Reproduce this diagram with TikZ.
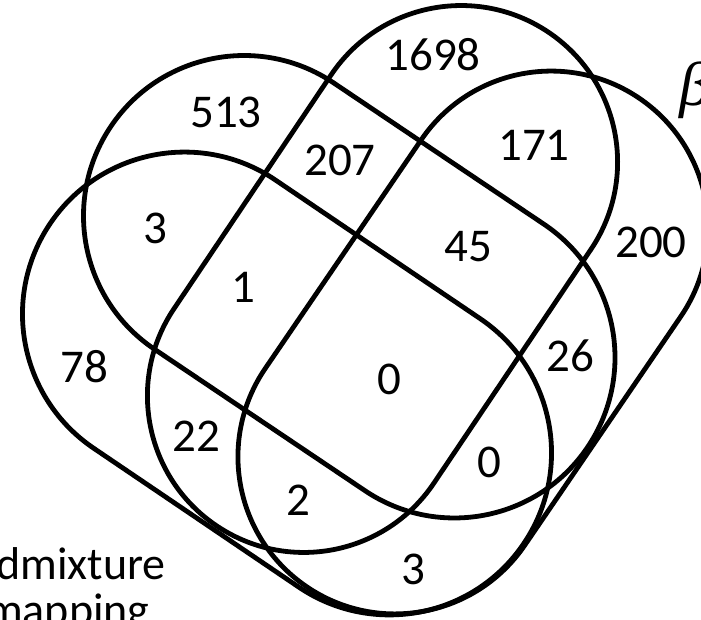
\documentclass[tikz,border=0pt]{standalone}
\usepackage{fontspec}
\setmainfont{Carlito}
\newfontfamily\grkfont{Liberation Serif}
\begin{document}
\begin{tikzpicture}[x=1pt,y=1pt,
  vennline/.style={line width=4.8pt,black},
  num/.style={inner sep=0pt,font=\fontsize{47}{56}\selectfont},
  lbl/.style={inner sep=0pt,anchor=base west,font=\fontsize{46}{55}\selectfont},
  pics/stadium/.style 2 args={code={
    \draw[vennline] (-#1,#2) -- (#1,#2) arc[start angle=90,end angle=-90,radius=#2]
      -- (-#1,-#2) arc[start angle=270,end angle=90,radius=#2] -- cycle;}}]
\useasboundingbox (0,0) rectangle (701,620);
% four sets
\pic[rotate=-34.1] (setA) at (287,236.5) {stadium={123.8}{162}};
\pic[rotate=-33.9] (setB) at (349.25,333.25) {stadium={126.8}{160.5}};
\pic[rotate=56.1] (setC) at (382.5,341) {stadium={140.9}{156.5}};
\pic[rotate=55.7] (setD) at (473,277.5) {stadium={138.5}{157}};
% region counts
\node[num] (n1698) at (433,565) {1698};
\node[num] (n513) at (226,508) {513};
\node[num] (n207) at (340,460) {207};
\node[num] (n171) at (534,475) {171};
\node[num] (n3a) at (155,392) {3};
\node[num] (n45) at (468,373) {45};
\node[num] (n200) at (651,378) {200};
\node[num] (n1) at (243,333) {1};
\node[num] (n78) at (84,253) {78};
\node[num] (n0a) at (389,241) {0};
\node[num] (n26) at (570,264) {26};
\node[num] (n22) at (196,184) {22};
\node[num] (n0b) at (489,158) {0};
\node[num] (n2) at (298,120) {2};
\node[num] (n3b) at (413,51) {3};
% labels cut by the frame
\node[lbl] (ladm) at (-4,40) {dmixture};
\node[lbl] (lmap) at (-14,-6) {mapping};
\node[inner sep=0pt,anchor=base west,font=\fontsize{62}{70}\selectfont\grkfont\itshape] (lbeta) at (679,514) {β};
\end{tikzpicture}
\end{document}
